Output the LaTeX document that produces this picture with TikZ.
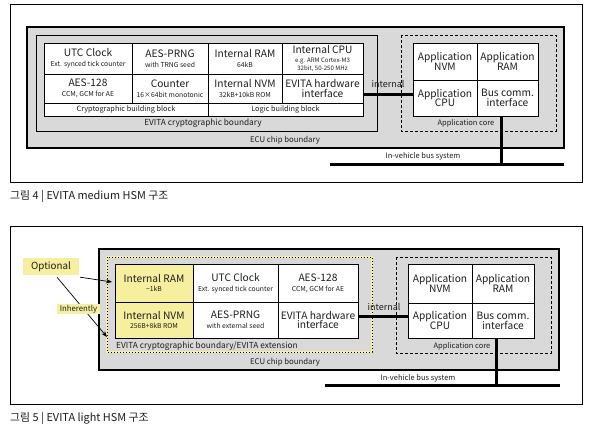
\documentclass[tikz,border=0pt]{standalone}
\usepackage{fontspec}
\setmainfont{Noto Sans CJK KR}
\usetikzlibrary{arrows.meta,calc}
\definecolor{ecugray}{HTML}{D9D9D9}
\definecolor{hlyel}{HTML}{F6EF9E}
\definecolor{txt}{HTML}{1E1E1E}
\newcommand\subt[1]{{\fontsize{6.8}{7.4}\selectfont #1}}
\newcommand\subs[1]{{\fontsize{6.1}{6.6}\selectfont #1}}
\begin{document}
\begin{tikzpicture}[x=1pt,y=-1pt,
  every node/.style={text=txt},
  frame/.style={draw=black, line width=0.9pt},
  ecu/.style={draw=black, fill=ecugray, line width=2.6pt},
  crypto/.style={draw=black, fill=ecugray, line width=0.9pt},
  appcore/.style={draw=black, fill=ecugray, line width=0.8pt, dash pattern=on 3pt off 2pt},
  cell/.style={draw=black, line width=0.8pt, fill=white, inner sep=0pt, align=center,
    font=\fontsize{10.2}{10.8}\selectfont},
  yel/.style={fill=hlyel},
  lbl/.style={inner sep=0pt, font=\fontsize{7.8}{8.5}\selectfont},
  smalllbl/.style={inner sep=0pt, font=\fontsize{7.5}{8.5}\selectfont},
  intlbl/.style={inner sep=0pt, font=\fontsize{9}{10}\selectfont},
  busline/.style={draw=black, line width=3pt},
  figcap/.style={inner sep=0pt, anchor=west, font=\fontsize{10.9}{12}\selectfont},
  tag/.style={fill=hlyel, inner sep=0pt},
  arr/.style={draw=black, line width=0.7pt, -{Stealth[length=6pt,width=4.5pt]}}
]
\useasboundingbox (0,0) rectangle (595,434);
\fill[white] (0,0) rectangle (595,434);

%================ Figure 4 =================
\draw[frame] (10,4) rectangle (582,182);
\draw[ecu] (27,27) rectangle (564,148);
\draw[crypto] (36,35) rectangle (377,131);
\draw[appcore] (401,35) rectangle (556,131);
\node[lbl] (ecul1) at (285,140) {ECU chip boundary};
\node[lbl, font=\fontsize{8.3}{9}\selectfont] (cryl1) at (203,123.5) {EVITA cryptographic boundary};
\node[smalllbl] (acl1) at (466,123) {Application core};

% HSM cells
\node[cell, minimum width=88, minimum height=31] (utc1) at (88,58.5) {UTC Clock\\[-1pt]\subt{Ext. synced tick counter}};
\node[cell, minimum width=76, minimum height=31] (prng1) at (170,58.5) {AES-PRNG\\[-1pt]\subt{with TRNG seed}};
\node[cell, minimum width=74, minimum height=31] (iram1) at (245,58.5) {Internal RAM\\[-1pt]\subt{64kB}};
\node[cell, minimum width=81, minimum height=31] (icpu1) at (322.5,58.5) {Internal CPU\\[-2pt]\subs{e.g. ARM Cortex-M3}\\[-2.5pt]\subs{32bit, 50-250 MHz}};
\node[cell, minimum width=88, minimum height=29] (aes1) at (88,88.5) {AES-128\\[-1pt]\subt{CCM, GCM for AE}};
\node[cell, minimum width=76, minimum height=29] (cnt1) at (170,88.5) {Counter\\[-1pt]\subt{16×64bit monotonic}};
\node[cell, minimum width=74, minimum height=29] (invm1) at (245,88.5) {Internal NVM\\[-1pt]\subt{32kB+10kB ROM}};
\node[cell, minimum width=81, minimum height=29] (hwif1) at (322.5,88.5) {EVITA hardware\\[-1pt]interface};
\node[cell, minimum width=164, minimum height=13, font=\fontsize{7.3}{8}\selectfont] (cbb1) at (126,109.5) {Cryptographic building block};
\node[cell, minimum width=155, minimum height=13, font=\fontsize{7.3}{8}\selectfont] (lbb1) at (285.5,109.5) {Logic building block};

% Application cells
\node[cell, minimum width=64, minimum height=37] (anvm1) at (445,61.5) {Application\\[-1pt]NVM};
\node[cell, minimum width=61, minimum height=37] (aram1) at (507.5,61.5) {Application\\[-1pt]RAM};
\node[cell, minimum width=64, minimum height=36] (acpu1) at (445,98) {Application\\[-1pt]CPU};
\node[cell, minimum width=61, minimum height=36] (bus1) at (507.5,98) {Bus comm.\\[-1pt]interface};

% internal link
\coordinate (int1) at (388,94);
\draw[busline] (hwif1.east |- int1) -- (acpu1.west |- int1);
\node[intlbl] (intl1) at (388,84) {internal};

% in-vehicle bus
\coordinate (busL1) at (330,164);
\coordinate (busR1) at (564,164);
\coordinate (busT1) at (501,164);
\draw[busline] (busL1) -- (busR1);
\draw[busline] (bus1.south -| busT1) -- (busT1);
\node[smalllbl] (busl1) at (423,156) {In-vehicle bus system};

\node[figcap] (cap1) at (10,196) {그림 4 | EVITA medium HSM 구조};

%================ Figure 5 =================
\draw[frame] (10,226) rectangle (582,404);
\draw[ecu] (99,249) rectangle (559,370);
\fill[ecugray] (107,257) rectangle (372,352);
\draw[draw=hlyel, line width=2pt] (107,257) rectangle (372,352);
\draw[draw=black, line width=0.9pt, dash pattern=on 1.3pt off 1.7pt] (107,257) rectangle (372,352);
\draw[appcore] (396,257) rectangle (551,353);
\node[lbl] (ecul2) at (285,362) {ECU chip boundary};
\node[lbl, anchor=west, font=\fontsize{8.3}{9}\selectfont] (cryl2) at (116,346) {EVITA cryptographic boundary/EVITA extension};
\node[smalllbl] (acl2) at (462,346) {Application core};

\node[cell, yel, minimum width=78, minimum height=38] (iram2) at (154,283) {Internal RAM\\[-1pt]\subt{\textasciitilde1kB}};
\node[cell, minimum width=85, minimum height=38] (utc2) at (235.5,283) {UTC Clock\\[-1pt]\subt{Ext. synced tick counter}};
\node[cell, minimum width=80, minimum height=38] (aes2) at (318,283) {AES-128\\[-1pt]\subt{CCM, GCM for AE}};
\node[cell, yel, minimum width=78, minimum height=36] (invm2) at (154,320) {Internal NVM\\[-1pt]\subt{256B+8kB ROM}};
\node[cell, minimum width=85, minimum height=36] (prng2) at (235.5,320) {AES-PRNG\\[-1pt]\subt{with external seed}};
\node[cell, minimum width=80, minimum height=36] (hwif2) at (318,320) {EVITA hardware\\[-1pt]interface};

\node[cell, minimum width=64, minimum height=39] (anvm2) at (440,283.5) {Application\\[-1pt]NVM};
\node[cell, minimum width=62, minimum height=39] (aram2) at (503,283.5) {Application\\[-1pt]RAM};
\node[cell, minimum width=64, minimum height=35] (acpu2) at (440,320.5) {Application\\[-1pt]CPU};
\node[cell, minimum width=62, minimum height=35] (bus2) at (503,320.5) {Bus comm.\\[-1pt]interface};

\coordinate (int2) at (384,316);
\draw[busline] (hwif2.east |- int2) -- (acpu2.west |- int2);
\node[intlbl] (intl2) at (384,307) {internal};

\coordinate (busL2) at (325,385);
\coordinate (busR2) at (560,385);
\coordinate (busT2) at (496,385);
\draw[busline] (busL2) -- (busR2);
\draw[busline] (bus2.south -| busT2) -- (busT2);
\node[smalllbl] (busl2) at (418,378) {In-vehicle bus system};

% Optional / Inherently
\node[tag, minimum width=56, minimum height=17, font=\fontsize{9.8}{10}\selectfont] (opt) at (51,266.5) {Optional};
\coordinate (tipA) at (112,282);
\coordinate (tipB) at (107,337);
\draw[arr] ($(opt.south east)+(1,2)$) -- (tipA);
\draw[arr] ($(opt.south)+(6,2)$) -- (tipB);
\node[tag, minimum width=43, minimum height=10, font=\fontsize{7.8}{8}\selectfont] (inh) at (78.5,309) {Inherently};

\node[figcap] (cap2) at (10,418) {그림 5 | EVITA light HSM 구조};
\end{tikzpicture}
\end{document}
